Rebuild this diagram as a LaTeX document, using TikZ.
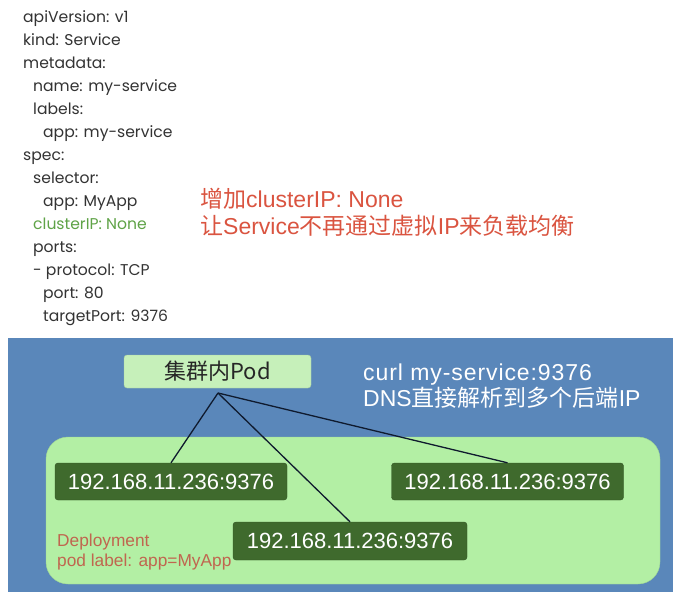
\documentclass[tikz,border=0pt]{standalone}
\usepackage{fontspec}
\setmainfont{Liberation Sans}
\newfontfamily\cjk{Noto Sans CJK SC}
\newfontfamily\yamlfont{Poppins}
\newfontfamily\widefont[LetterSpace=4]{Liberation Sans}
\definecolor{bluebg}{HTML}{5A87BA}
\definecolor{podfill}{HTML}{C6F0BA}
\definecolor{deplfill}{HTML}{B3EFA4}
\definecolor{ipfill}{HTML}{3F6A2D}
\definecolor{yamltext}{HTML}{333333}
\definecolor{yamlgreen}{HTML}{5FA347}
\definecolor{notered}{HTML}{DA5440}
\definecolor{deplred}{HTML}{C0664F}
\definecolor{linecol}{HTML}{0F1A2E}
\tikzset{
  yaml/.style={anchor=base west, inner sep=0pt, font=\yamlfont\fontsize{15.6}{18}\selectfont, text=yamltext},
  note/.style={anchor=base west, inner sep=0pt, font=\fontsize{23}{26}\selectfont, text=notered},
  ipbox/.style={draw=ipfill!80!black, fill=ipfill, rounded corners=3pt, minimum width=232pt, minimum height=37pt, inner sep=0pt, text=white, font=\fontsize{22}{24}\selectfont},
  wire/.style={draw=linecol, line width=1.3pt},
  info/.style={anchor=base west, inner sep=0pt, text=white, font=\fontsize{23}{26}\selectfont},
  depl/.style={anchor=base west, inner sep=0pt, text=deplred, font=\fontsize{17.3}{19}\selectfont},
}
\begin{document}
\begin{tikzpicture}[x=1pt,y=-1pt]
\useasboundingbox (0,0) rectangle (680,600);
\fill[white] (0,0) rectangle (680,600);
% YAML
\node[yaml] (l1) at (23,22) {apiVersion: v1};
\node[yaml] (l2) at (23,45) {kind: Service};
\node[yaml] (l3) at (23,68) {metadata:};
\node[yaml] (l4) at (33,91) {name: my-service};
\node[yaml] (l5) at (33,114) {labels:};
\node[yaml] (l6) at (43,137) {app: my-service};
\node[yaml] (l7) at (23,160) {spec:};
\node[yaml] (l8) at (33,183) {selector:};
\node[yaml] (l9) at (43,206) {app: MyApp};
\node[yaml, text=yamlgreen] (l10) at (33,229) {clusterIP: None};
\node[yaml] (l11) at (33,252) {ports:};
\node[yaml] (l12) at (33,275) {- protocol: TCP};
\node[yaml] (l13) at (43,298) {port: 80};
\node[yaml] (l14) at (43,321) {targetPort: 9376};
% red notes
\node[note] (n1) at (200,207) {{\cjk 增加}clusterIP: None};
\node[note] (n2) at (200,234) {{\cjk 让}Service{\cjk 不再通过虚拟}IP{\cjk 来负载均衡}};
% blue background
\fill[bluebg] (8,338) rectangle (673,592);
% deployment area
\node[draw=deplfill!90!black, fill=deplfill, rounded corners=22pt, minimum width=614pt, minimum height=147pt, inner sep=0pt] (depl) at (353,510.5) {};
% pod box
\node[draw=podfill!85!black, fill=podfill, rounded corners=3pt, minimum width=187pt, minimum height=33pt, inner sep=0pt, font=\cjk\fontsize{22}{24}\selectfont, text=black!85] (pod) at (217.5,371.5) {集群内Pod};
% info text
\node[info, font=\widefont\fontsize{23}{26}\selectfont] (c1) at (363,380) {curl my-service:9376};
\node[info] (c2) at (363,406) {DNS{\cjk 直接解析到多个后端}IP};
% ip boxes
\node[ipbox] (b1) at (171,481.5) {192.168.11.236:9376};
\node[ipbox] (b2) at (507.5,481.5) {192.168.11.236:9376};
\node[ipbox, minimum width=234pt, minimum height=38pt] (b3) at (350,541) {192.168.11.236:9376};
% deployment labels
\node[depl] (d1) at (57,546) {Deployment};
\node[depl] (d2) at (57,566) {pod label: app=MyApp};
% connectors
\coordinate (hub) at (218,393);
\draw[wire] (hub) -- (b1.north);
\draw[wire] (hub) -- (b3.north);
\draw[wire] (hub) -- (b2.north);
\end{tikzpicture}
\end{document}
